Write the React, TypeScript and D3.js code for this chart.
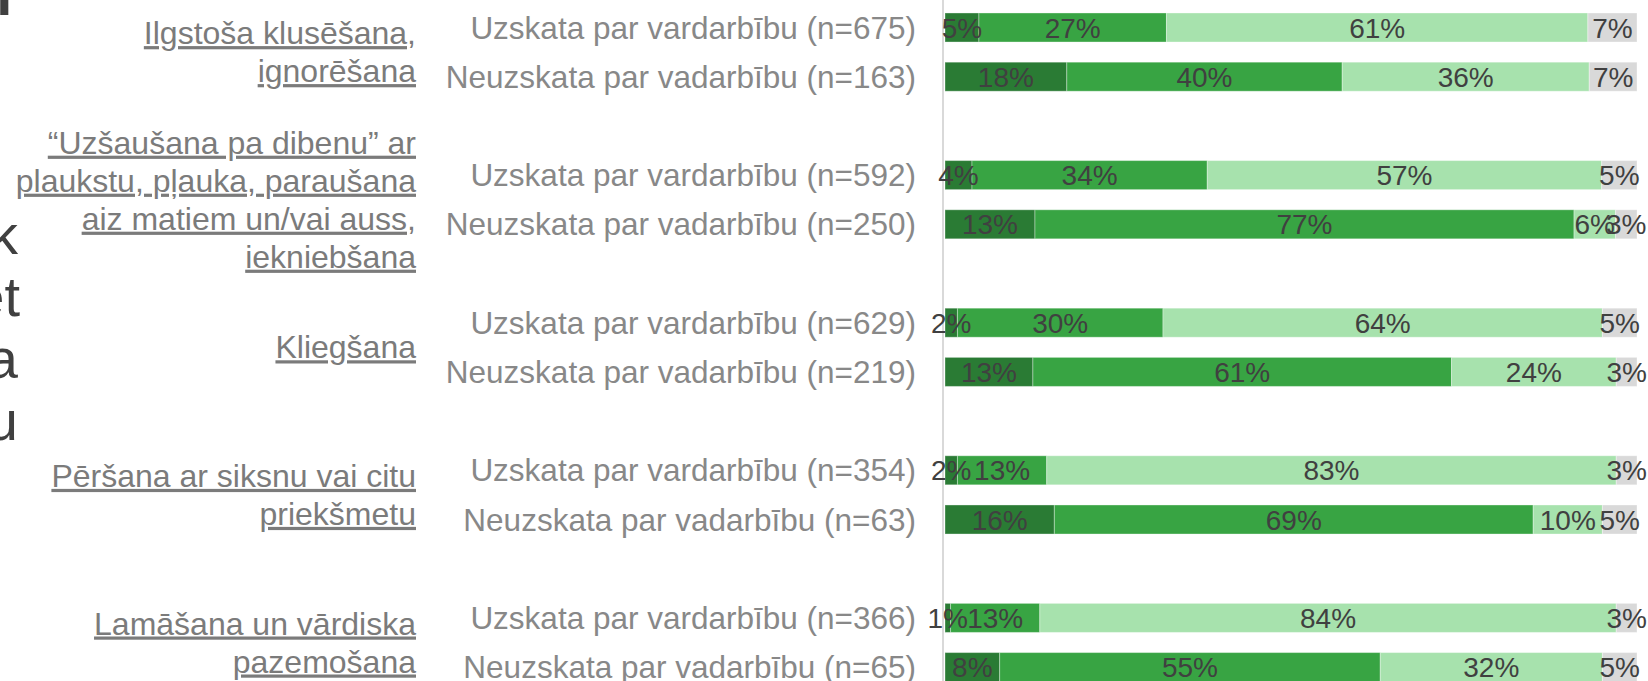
import { useEffect, useRef } from 'react';
import * as d3 from 'd3';

const W = 1648, H = 681;

// category labels, already broken into lines as on the slide
const categoryLines = [
    ['Ilgstoša klusēšana,', 'ignorēšana'],
    ['“Uzšaušana pa dibenu” ar', 'plaukstu, pļauka, paraušana', 'aiz matiem un/vai auss,', 'iekniebšana'],
    ['Kliegšana'],
    ['Pēršana ar siksnu vai citu', 'priekšmetu'],
    ['Lamāšana un vārdiska', 'pazemošana'],
];
const groupNames = ['Uzskata par vardarbību', 'Neuzskata par vadarbību'];
const sampleSizes = [[675, 163], [592, 250], [629, 219], [354, 63], [366, 65]];

// segment widths (share of bar), 4 segments per bar
const shares = [
    [[4.9, 27.1, 60.9, 7.1], [17.6, 39.8, 35.7, 6.9]],
    [[3.9, 34.0, 57.0, 5.1], [13.0, 77.9, 6.0, 3.1]],
    [[1.8, 29.7, 63.5, 5.0], [12.7, 60.5, 23.8, 3.0]],
    [[1.8, 12.9, 82.3, 3.0], [15.8, 69.2, 10.0, 5.0]],
    [[0.8, 12.9, 83.3, 3.0], [7.9, 55.0, 32.1, 5.0]],
];
// percentages printed on the bars
const shown = [
    [[5, 27, 61, 7], [18, 40, 36, 7]],
    [[4, 34, 57, 5], [13, 77, 6, 3]],
    [[2, 30, 64, 5], [13, 61, 24, 3]],
    [[2, 13, 83, 3], [16, 69, 10, 5]],
    [[1, 13, 84, 3], [8, 55, 32, 5]],
];
const segColors = ['#2a7b34', '#38a443', '#a7e2ad', '#d9d9d9'];
// clipped pieces of the slide title at the left edge
const titleBits = ['k', 'et', 'a', 'u'];

const font = '"Liberation Sans", Arial, sans-serif';

function App() {
    const node = useRef(null);
    useEffect(() => {
        if (!node.current) return;
        const svg = d3.select(node.current);
        svg.selectAll('*').remove();

        const rowKeys: string[] = [];
        categoryLines.forEach((_, g) => rowKeys.push(`${g}-0`, `${g}-1`, `${g}-gap`));

        const y = d3.scaleBand()
            .domain(rowKeys)
            .range([2.9, 2.9 + rowKeys.length * 49.2])
            .paddingInner(0.41)
            .paddingOuter(0.205);
        const x = d3.scaleLinear().domain([0, 100]).range([945, 1637]);
        const bw = y.bandwidth();

        // left edge title fragments
        svg.append('text').attr('x', 12).attr('y', 15).attr('text-anchor', 'end')
            .attr('font-size', 56).attr('font-weight', 'bold').attr('fill', '#404040').text('I');
        svg.selectAll('.title-bit').data(titleBits).enter().append('text')
            .attr('class', 'title-bit')
            .attr('x', d => d.length > 1 ? 20 : 18).attr('y', (d, i) => 254 + i * 62)
            .attr('text-anchor', 'end').attr('font-size', 56).attr('fill', '#404040')
            .text(d => d);

        // axis line
        svg.append('line')
            .attr('x1', x(0) - 2).attr('x2', x(0) - 2).attr('y1', 0).attr('y2', H)
            .attr('stroke', '#d9d9d9').attr('stroke-width', 2);

        categoryLines.forEach((lines, g) => {
            const yc = (y(`${g}-0`)! + y(`${g}-1`)! + bw) / 2;
            const t = svg.append('text')
                .attr('text-anchor', 'end').attr('font-size', 32).attr('fill', '#7b7b7b')
                .style('text-decoration', 'underline');
            lines.forEach((ln, i) => {
                t.append('tspan').attr('x', 416)
                    .attr('y', yc + (i - (lines.length - 1) / 2) * 38 + 11)
                    .text(ln);
            });

            groupNames.forEach((name, k) => {
                const y0 = y(`${g}-${k}`)!;
                const cy = y0 + bw / 2;
                svg.append('text')
                    .attr('x', 916).attr('y', cy + 11)
                    .attr('text-anchor', 'end').attr('font-size', 31.5).attr('fill', '#888888')
                    .text(`${name} (n=${sampleSizes[g][k]})`);

                const vals = shares[g][k];
                const total = d3.sum(vals);
                let acc = 0;
                const segs = vals.map((v, s) => {
                    const a = acc / total * 100;
                    acc += v;
                    return { a, b: acc / total * 100, s, label: shown[g][k][s] };
                });
                const row = svg.append('g');
                row.selectAll('rect').data(segs).enter().append('rect')
                    .attr('x', d => x(d.a)).attr('y', y0)
                    .attr('width', d => x(d.b) - x(d.a)).attr('height', bw)
                    .attr('fill', d => segColors[d.s])
                    .attr('stroke', '#ffffff').attr('stroke-opacity', 0.35).attr('stroke-width', 1);
                row.selectAll('text').data(segs).enter().append('text')
                    .attr('x', d => (x(d.a) + x(d.b)) / 2).attr('y', cy + 10)
                    .attr('text-anchor', 'middle').attr('font-size', 28).attr('fill', '#404040')
                    .text(d => `${d.label}%`);
            });
        });
    }, [node]);

    return (
        <div>
            <style>{'body{margin:0}'}</style>
            <svg ref={node} width={W} height={H} style={{ display: 'block', fontFamily: font, background: '#fff' }}></svg>
        </div>
    );
}

export default App;
